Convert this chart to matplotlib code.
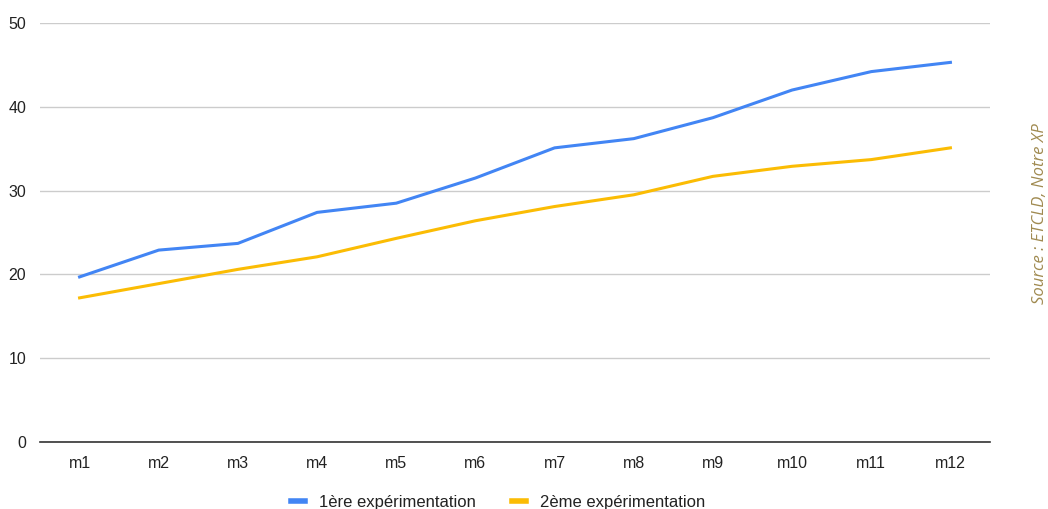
import matplotlib
matplotlib.use("Agg")
import matplotlib.pyplot as plt
from matplotlib.lines import Line2D

months = ["m1", "m2", "m3", "m4", "m5", "m6", "m7", "m8", "m9", "m10", "m11", "m12"]
exp1 = [19.7, 22.9, 23.7, 27.4, 28.5, 31.5, 35.1, 36.2, 38.7, 42.0, 44.2, 45.3]
exp2 = [17.2, 18.9, 20.6, 22.1, 24.3, 26.4, 28.1, 29.5, 31.7, 32.9, 33.7, 35.1]
yticks = [0, 10, 20, 30, 40, 50]
labels = ["1ère expérimentation", "2ème expérimentation"]
colors = ["#4285F4", "#FBBC04"]

plt.rcParams["font.family"] = ["Liberation Sans", "DejaVu Sans"]

fig = plt.figure(figsize=(10.48, 5.09), dpi=100)
ax = fig.add_axes([40 / 1048, 1 - 442 / 509, 950 / 1048, 419 / 509])

x = list(range(len(months)))
ax.plot(x, exp1, color=colors[0], lw=2.2, solid_joinstyle="round", zorder=3)
ax.plot(x, exp2, color=colors[1], lw=2.2, solid_joinstyle="round", zorder=3)

ax.set_xlim(-0.5, len(months) - 0.5)
ax.set_ylim(0, 50)
ax.set_yticks(yticks)
ax.set_xticks(x)
ax.set_xticklabels(months)
ax.grid(axis="y", color="#cccccc", lw=1)
ax.set_axisbelow(True)
for s in ["left", "right", "top"]:
    ax.spines[s].set_visible(False)
ax.spines["bottom"].set_color("#333333")
ax.spines["bottom"].set_linewidth(1.2)
ax.tick_params(axis="both", length=0, labelsize=11.5, colors="#222222")
ax.tick_params(axis="y", pad=10)
ax.tick_params(axis="x", pad=10)

handles = [Line2D([0], [0], color=c, lw=4) for c in colors]
fig.legend(handles, labels, loc="center", bbox_to_anchor=(498 / 1048, 1 - 502 / 509),
           ncol=2, frameon=False, fontsize=12, handlelength=0.85, columnspacing=2.2,
           handletextpad=0.8, labelcolor="#222222")

fig.text(1040 / 1048, 1 - 214 / 509, "Source : ETCLD, Notre XP", rotation=90,
         ha="center", va="center", fontsize=12, style="italic",
         color="#a08a50", family=["Open Sans", "DejaVu Sans"])

fig.savefig("out.png", dpi=100)
